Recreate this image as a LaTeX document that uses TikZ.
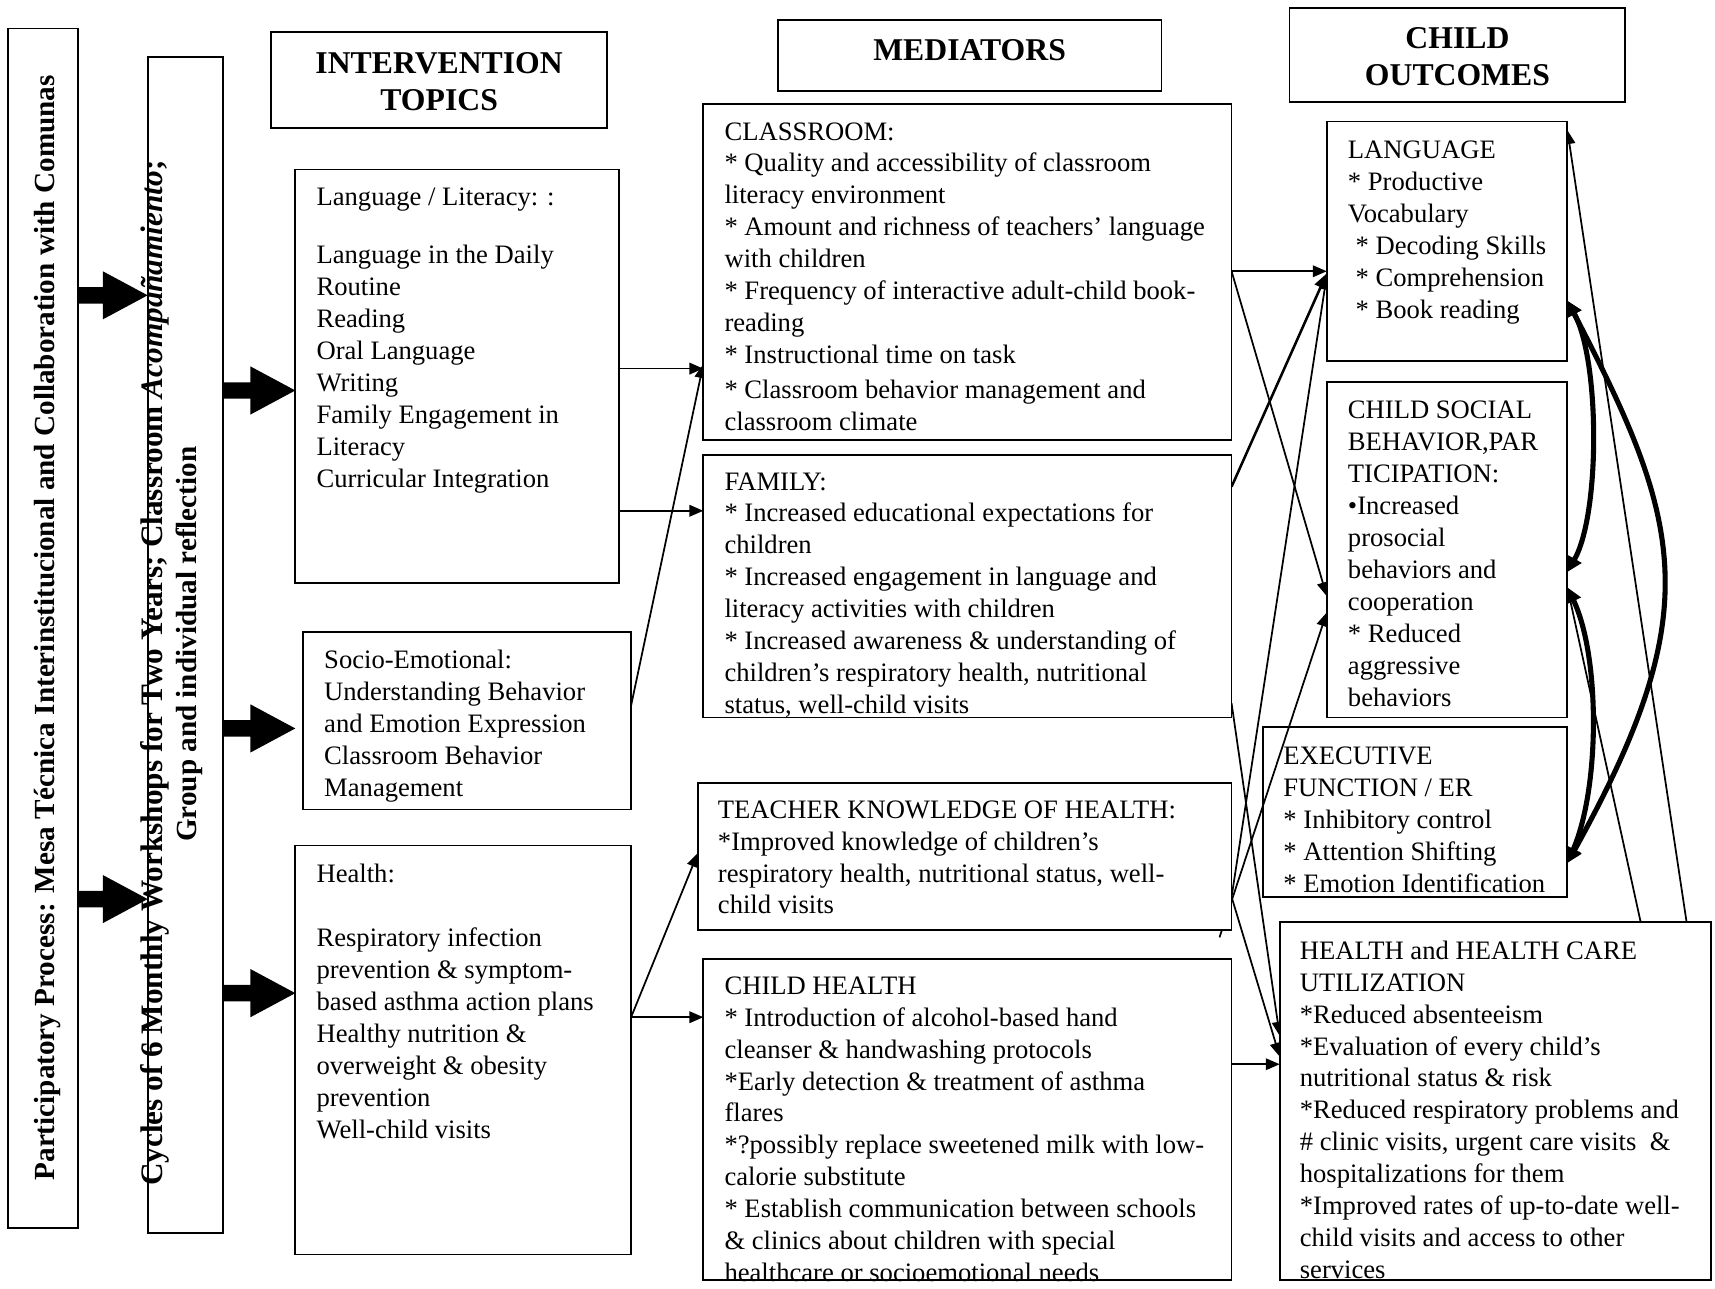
\documentclass[tikz,border=0pt]{standalone}
\usepackage{fontspec}
\setmainfont{Liberation Serif}
\usetikzlibrary{arrows.meta,calc,fit}
\pgfdeclarelayer{bg}
\pgfsetlayers{bg,main}
\newcommand\bodyfont{\fontsize{11.5}{13.8}\selectfont}
\newcommand\headfont{\fontsize{13.7}{16}\selectfont\bfseries}
\newcommand\sidefont{\fontsize{12.6}{14.7}\selectfont\bfseries}
\newcommand\sidebigfont{\fontsize{13.5}{14.7}\selectfont\bfseries}
\newcommand\lns[1]{\begin{tabular}[t]{@{}l@{}}#1\end{tabular}}
\newcommand\clns[1]{\begin{tabular}[t]{@{}c@{}}#1\end{tabular}}
\newcommand\blockarrow[3]{%
  \path (#1.east |- 0,#2) coordinate (ba);
  \fill (ba) ++(0,-7.5) -- ++(#3-41,0) -- ++(0,-14.5) -- ++(41,22) -- ++(-41,22) -- ++(0,-14.5) -- ++(-#3+41,0) -- cycle;}
\begin{document}
\begin{tikzpicture}[x=0.4726pt,y={(0pt,-0.4726pt)},
  box/.style={draw, line width=0.75pt, fill=white, inner sep=0pt, outer sep=0pt},
  txt/.style={inner sep=0pt, anchor=base west, font=\bodyfont},
  head/.style={inner sep=0pt, anchor=base, font=\headfont},
  side/.style={inner sep=0pt, anchor=base, rotate=90, font=\sidefont},
  arr/.style={line width=0.75pt, -{Triangle[length=6pt,width=5pt]}},
  boldarr/.style={line width=1.1pt, -{Triangle[length=6.5pt,width=5.5pt]}},
  curvearr/.style={line width=2.2pt, {Triangle[length=6.5pt,width=6.5pt]}-{Triangle[length=6.5pt,width=6.5pt]}}]
\useasboundingbox (0,0) rectangle (1568,1177.6);
\begin{pgfonlayer}{bg}
\fill[white] (0,0) rectangle (1568,1177.6);
\end{pgfonlayer}

% boxes
\node[box, fit={(7,26) (71,1123)}] (P) {};
\node[box, fit={(135,52) (204,1127)}] (C) {};
\node[box, fit={(248,29) (555,117)}] (IT) {};
\node[box, fit={(711,18) (1062,83)}] (MED) {};
\node[box, fit={(1179,7) (1486,93)}] (CO) {};
\node[box, fit={(270,155) (566,533)}] (LL) {};
\node[box, fit={(277,578) (577,740)}] (SE) {};
\node[box, fit={(270,773) (577,1147)}] (HT) {};
\node[box, fit={(643,95) (1126,402)}] (CL) {};
\node[box, fit={(643,416) (1126,656)}] (FA) {};
\node[box, fit={(638,716) (1126,850)}] (TK) {};
\node[box, fit={(643,877) (1126,1170)}] (CH) {};
\node[box, fit={(1213,111) (1433,330)}] (LO) {};
\node[box, fit={(1213,349) (1433,656)}] (SO) {};
\node[box, fill=none, fit={(1155,665) (1433,820)}] (EX) {};
\node[box, fit={(1170,843) (1564,1170)}] (HC) {};

% connectors
\begin{pgfonlayer}{bg}
\coordinate (jstart) at (1115,857);
\draw[arr] (LL.east |- 0,337) -- (CL.west |- 0,337);
\draw[arr] (LL.east |- 0,467) -- (FA.west |- 0,467);
\draw[arr] (SE.east |- 0,645) -- (CL.west |- 0,333);
\draw[arr] (HT.east |- 0,930) -- (TK.west |- 0,780);
\draw[arr] (HT.east |- 0,930) -- (CH.west |- 0,930);
\draw[arr] (CL.east |- 0,248) -- (LO.west |- 0,248);
\draw[arr] (CL.east |- 0,248) -- (SO.west |- 0,545);
\draw[boldarr] (FA.east |- 0,445) -- (LO.west |- 0,250);
\draw[arr] (TK.east |- 0,820) -- (LO.west |- 0,252);
\draw[arr] (jstart) -- (SO.west |- 0,560);
\draw[arr] (FA.east |- 0,643) -- (HC.west |- 0,947);
\draw[arr] (TK.east |- 0,820) -- (HC.west |- 0,966);
\draw[arr] (CH.east |- 0,973) -- (HC.west |- 0,973);
\draw[arr] (HC.north -| 1542,0) -- (LO.east |- 0,119);
\draw[arr] (HC.north -| 1500,0) -- (SO.east |- 0,537);
\end{pgfonlayer}
\draw[curvearr] (LO.east |- 0,275) .. controls (1463,330) and (1463,470) .. (SO.east |- 0,523);
\draw[curvearr] (LO.east |- 0,275) .. controls (1540,480) and (1560,560) .. (EX.east |- 0,789);
\draw[curvearr] (SO.east |- 0,537) .. controls (1463,600) and (1463,720) .. (EX.east |- 0,789);

% block arrows
\blockarrow{P}{270}{64}
\blockarrow{P}{822}{64}
\blockarrow{C}{357}{66}
\blockarrow{C}{666}{66}
\blockarrow{C}{908}{66}

% side texts
\node[side] (PT) at (50,574) {Participatory Process: Mesa Técnica Interinstitucional and Collaboration with Comunas};
\node[side, font=\sidebigfont] (CT) at (149,615.5) {Cycles of 6 Monthly Workshops for Two Years; Classroom \textit{Acompañamiento};};
\node[side] (CT2) at (180,589) {Group and individual reflection};

% headings
\node[head] (ITT) at (401.5,67) {\clns{INTERVENTION\\TOPICS}};
\node[head] (MEDT) at (886.5,55) {MEDIATORS};
\node[head] (COT) at (1332.5,44) {\clns{CHILD\\OUTCOMES}};

% texts
\node[txt] (LLT) at (289,188) {\lns{Language / Literacy: :\\[11.2pt] Language in the Daily\\ Routine\\ Reading\\ Oral Language\\ Writing\\ Family Engagement in\\ Literacy\\ Curricular Integration}};
\node[txt] (SET) at (296,611) {\lns{Socio-Emotional:\\ Understanding Behavior\\ and Emotion Expression\\ Classroom Behavior\\ Management}};
\node[txt] (HTT) at (289,807) {\lns{Health:\\ \\ Respiratory infection\\ prevention \& symptom-\\ based asthma action plans\\ Healthy nutrition \&\\ overweight \& obesity\\ prevention\\ Well-child visits}};
\node[txt] (CLT) at (662,128) {\lns{CLASSROOM:\\ {*} Quality and accessibility of classroom\\ literacy environment\\ {*} Amount and richness of teachers’ language\\ with children\\ {*} Frequency of interactive adult-child book-\\ reading\\ {*} Instructional time on task\\[1.3pt] {*} Classroom behavior management and\\ classroom climate}};
\node[txt] (FAT) at (662,448) {\lns{FAMILY:\\ {*} Increased educational expectations for\\ children\\ {*} Increased engagement in language and\\ literacy activities with children\\ {*} Increased awareness \& understanding of\\ children’s respiratory health, nutritional\\ status, well-child visits}};
\node[txt] (TKT) at (656,748) {\lns{TEACHER KNOWLEDGE OF HEALTH:\\ {*}Improved knowledge of children’s\\ respiratory health, nutritional status, well-\\ child visits}};
\node[txt] (CHT) at (662,909) {\lns{CHILD HEALTH\\ {*} Introduction of alcohol-based hand\\ cleanser \& handwashing protocols\\ {*}Early detection \& treatment of asthma\\ flares\\ {*}?possibly replace sweetened milk with low-\\ calorie substitute\\ {*} Establish communication between schools\\ \& clinics about children with special\\ healthcare or socioemotional needs}};
\node[txt] (LOT) at (1232,145) {\lns{LANGUAGE\\ {*} Productive\\ Vocabulary\\ \hspace{3.3pt}{*} Decoding Skills\\ \hspace{3.3pt}{*} Comprehension\\ \hspace{3.3pt}{*} Book reading}};
\node[txt] (SOT) at (1232,383) {\lns{CHILD SOCIAL\\ BEHAVIOR,PAR\\ TICIPATION:\\ •Increased\\ prosocial\\ behaviors and\\ cooperation\\ {*} Reduced\\ aggressive\\ behaviors}};
\node[txt] (EXT) at (1173,699) {\lns{EXECUTIVE\\ FUNCTION / ER\\ {*} Inhibitory control\\ {*} Attention Shifting\\ {*} Emotion Identification}};
\node[txt] (HCT) at (1188,877) {\lns{HEALTH and HEALTH CARE\\ UTILIZATION\\ {*}Reduced absenteeism\\ {*}Evaluation of every child’s\\ nutritional status \& risk\\ {*}Reduced respiratory problems and\\ \# clinic visits, urgent care visits\ \ \&\\ hospitalizations for them\\ {*}Improved rates of up-to-date well-\\ child visits and access to other\\ services}};
\end{tikzpicture}
\end{document}
